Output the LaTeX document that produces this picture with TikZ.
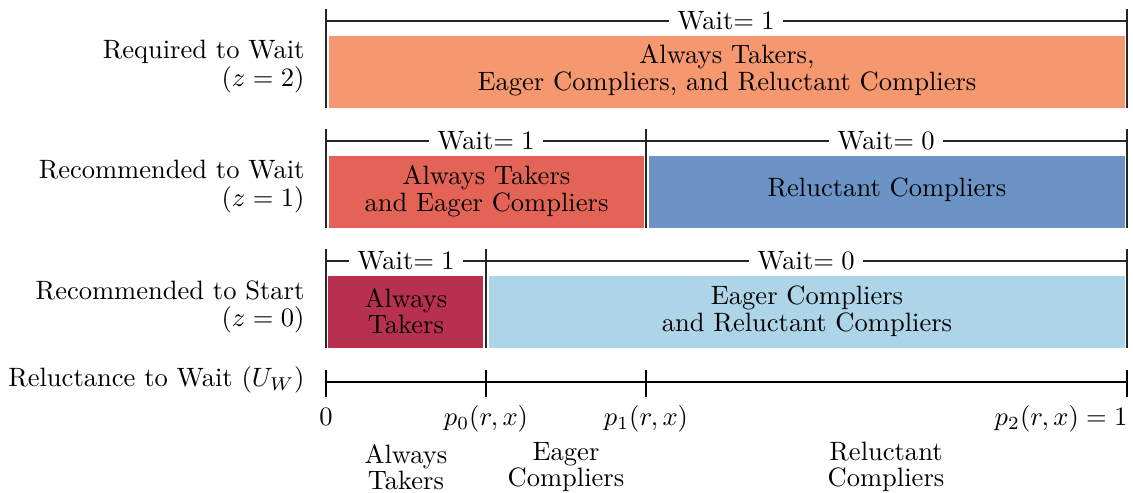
\documentclass[tikz,border=0pt]{standalone}
\usetikzlibrary{fit}
\definecolor{corange}{HTML}{F6986F}
\definecolor{cred}{HTML}{E36456}
\definecolor{cblue}{HTML}{6C93C6}
\definecolor{ccrimson}{HTML}{B83050}
\definecolor{clight}{HTML}{AED4E7}
\begin{document}
\begin{tikzpicture}[x=0.01325cm, y=-0.01325cm,
  bar/.style={inner sep=0pt, draw=none},
  bartext/.style={inner sep=0pt, align=center},
  waitlbl/.style={fill=white, inner xsep=3.3pt, inner ysep=0.5pt},
  bracket/.style={line width=0.4pt, black!85},
  divider/.style={line width=0.4pt, black!85},
  axisline/.style={line width=0.8pt, black},
  rowlabel/.style={anchor=east, inner sep=0pt, align=right},
  ticklbl/.style={anchor=base, inner sep=0pt},
  grouplbl/.style={align=center, inner sep=0pt}]
\useasboundingbox (0,0) rectangle (1133,493);

% ---------- row z = 2 ----------
\node[bar, fill=corange, fit={(329,36)(1125,108)}] (r2all) {};
\node[bartext] (r2t) at (727,70) {Always Takers,\\[-2pt]Eager Compliers, and Reluctant Compliers};
\coordinate (b2l) at (326,21);
\coordinate (b2r) at (1127,21);
\coordinate (v2lt) at (326,9);   \coordinate (v2lb) at (326,108);
\coordinate (v2rt) at (1127,9);  \coordinate (v2rb) at (1127,108);
\draw[bracket] (b2l) -- (b2r);
\draw[divider] (v2lt) -- (v2lb);
\draw[divider] (v2rt) -- (v2rb);
\node[waitlbl] (w2) at (726,21) {Wait$=1$};
\node[rowlabel] (lab2) at (305,67) {Required to Wait\\[-1.5pt]($z=2$)};

% ---------- row z = 1 ----------
\node[bar, fill=cred, fit={(329,156)(644,228)}] (r1a) {};
\node[bar, fill=cblue, fit={(649,156)(1125,228)}] (r1b) {};
\node[bartext] (r1at) at (486.5,191) {Always Takers\\[-2pt]and Eager Compliers};
\node[bartext] (r1bt) at (887,190) {Reluctant Compliers};
\coordinate (b1l) at (326,141);
\coordinate (b1r) at (1127,141);
\coordinate (v1lt) at (326,129);  \coordinate (v1lb) at (326,228);
\coordinate (v1mt) at (646,129);  \coordinate (v1mb) at (646,228);
\coordinate (v1rt) at (1127,129); \coordinate (v1rb) at (1127,228);
\draw[bracket] (b1l) -- (b1r);
\draw[divider] (v1lt) -- (v1lb);
\draw[divider] (v1mt) -- (v1mb);
\draw[divider] (v1rt) -- (v1rb);
\node[waitlbl] (w1a) at (486,141) {Wait$=1$};
\node[waitlbl] (w1b) at (886,141) {Wait$=0$};
\node[rowlabel] (lab1) at (305,187) {Recommended to Wait\\[-1.5pt]($z=1$)};

% ---------- row z = 0 ----------
\node[bar, fill=ccrimson, fit={(328,276)(483,348)}] (r0a) {};
\node[bar, fill=clight, fit={(489,276)(1125,348)}] (r0b) {};
\node[bartext] (r0at) at (406,311) {Always\\[-2pt]Takers};
\node[bartext] (r0bt) at (807,311) {Eager Compliers\\[-2pt]and Reluctant Compliers};
\coordinate (b0l) at (326,261);
\coordinate (b0r) at (1127,261);
\coordinate (v0lt) at (326,249);  \coordinate (v0lb) at (326,348);
\coordinate (v0mt) at (486,249);  \coordinate (v0mb) at (486,348);
\coordinate (v0rt) at (1127,249); \coordinate (v0rb) at (1127,348);
\draw[bracket] (b0l) -- (b0r);
\draw[divider] (v0lt) -- (v0lb);
\draw[divider] (v0mt) -- (v0mb);
\draw[divider] (v0rt) -- (v0rb);
\node[waitlbl] (w0a) at (406,261) {Wait$=1$};
\node[waitlbl] (w0b) at (806,261) {Wait$=0$};
\node[rowlabel] (lab0) at (305,307) {Recommended to Start\\[-1.5pt]($z=0$)};

% ---------- axis ----------
\coordinate (ax0) at (326,382);
\coordinate (ax1) at (1127,382);
\draw[axisline] (ax0) -- (ax1);
\coordinate (t0a) at (326,370);  \coordinate (t0b) at (326,397);
\coordinate (t1a) at (486,370);  \coordinate (t1b) at (486,397);
\coordinate (t2a) at (646,370);  \coordinate (t2b) at (646,397);
\coordinate (t3a) at (1127,370); \coordinate (t3b) at (1127,397);
\draw[axisline] (t0a) -- (t0b);
\draw[axisline] (t1a) -- (t1b);
\draw[axisline] (t2a) -- (t2b);
\draw[axisline] (t3a) -- (t3b);
\node[anchor=base east, inner sep=0pt] (axlab) at (305,387) {Reluctance to Wait ($U_W$)};
\node[ticklbl] (p00) at (326,426) {$0$};
\node[ticklbl] (p0) at (486,426) {$p_0(r,x)$};
\node[ticklbl] (p1) at (646,426) {$p_1(r,x)$};
\node[anchor=base east, inner sep=0pt] (p2) at (1128,426) {$p_2(r,x)=1$};

% ---------- group labels ----------
\node[grouplbl] (g0) at (406,467) {Always\\[-2pt]Takers};
\node[grouplbl] (g1) at (566,467) {Eager\\[-2pt]Compliers};
\node[grouplbl] (g2) at (886,467) {Reluctant\\[-2pt]Compliers};
\end{tikzpicture}
\end{document}
